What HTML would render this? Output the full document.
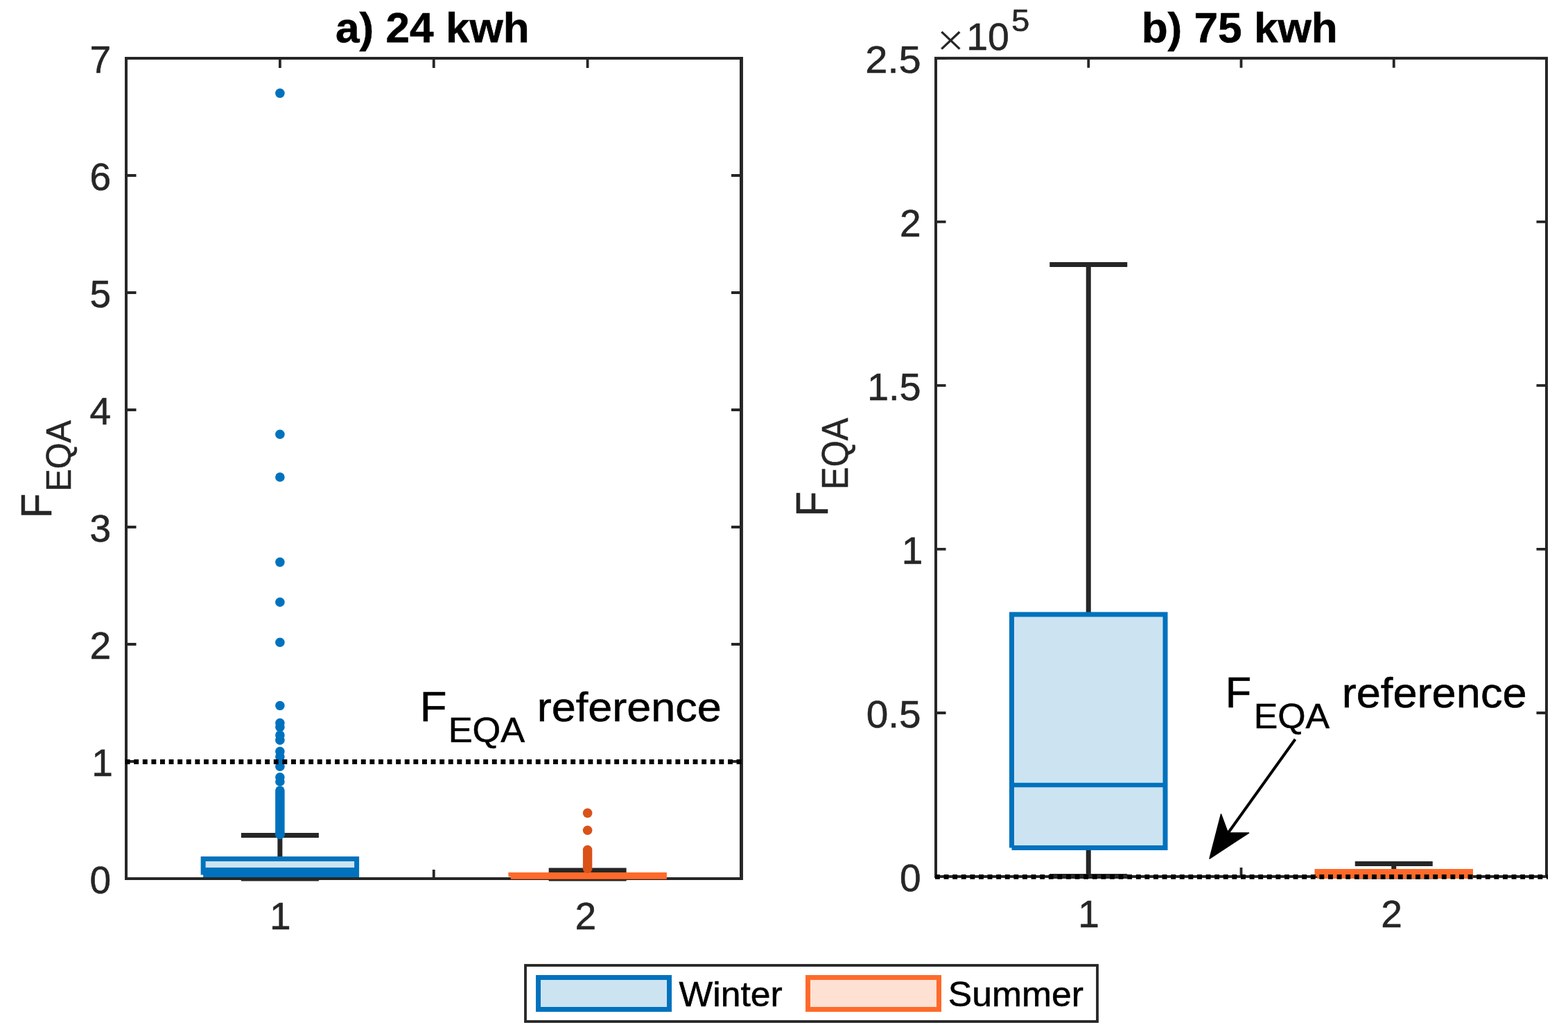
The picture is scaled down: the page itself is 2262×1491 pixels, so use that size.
<!DOCTYPE html>
<html><head><meta charset="utf-8"><title>FEQA boxplots</title>
<style>html,body{margin:0;padding:0;background:#fff;}svg{display:block;}</style>
</head><body>
<svg width="2262" height="1491" viewBox="0 0 2262 1491" font-family="'Liberation Sans', Arial, Helvetica, sans-serif">
<rect width="2262" height="1491" fill="#fff"/>
<rect x="182.0" y="84.0" width="887.5" height="1183.0" fill="none" stroke="#262626" stroke-width="4" stroke-linejoin="miter"/>
<path d="M182.0,1267.00H196.5M1069.5,1267.00H1055.0M182.0,1098.00H196.5M1069.5,1098.00H1055.0M182.0,929.00H196.5M1069.5,929.00H1055.0M182.0,760.00H196.5M1069.5,760.00H1055.0M182.0,591.00H196.5M1069.5,591.00H1055.0M182.0,422.00H196.5M1069.5,422.00H1055.0M182.0,253.00H196.5M1069.5,253.00H1055.0M182.0,84.00H196.5M1069.5,84.00H1055.0M403.88,1267.0V1254.0M403.88,84.0V97.9M625.75,1267.0V1254.0M625.75,84.0V97.9M847.62,1267.0V1254.0M847.62,84.0V97.9" stroke="#262626" stroke-width="3.8" fill="none"/>
<path d="M1069.45,82V1269" stroke="#262626" stroke-width="4.9" fill="none"/>
<path d="M403.88,1204.40L403.88,1238.50" stroke="#262626" stroke-width="7" fill="none" />
<path d="M347.88,1204.40L459.88,1204.40" stroke="#262626" stroke-width="7" fill="none" />
<path d="M347.88,1267.00L459.88,1267.00" stroke="#262626" stroke-width="7" fill="none" />
<rect x="293.12" y="1238.5" width="221.5" height="23.09999999999991" fill="#CCE3F2"/>
<path d="M293.12,1261.6V1238.5H514.62V1261.6H293.12" fill="none" stroke="#0072BD" stroke-width="7"/>
<path d="M293.12,1254.60L514.62,1254.60" stroke="#0072BD" stroke-width="7.4" fill="none" />
<circle cx="403.88" cy="134.40" r="6.8" fill="#0072BD"/>
<circle cx="403.88" cy="626.30" r="6.8" fill="#0072BD"/>
<circle cx="403.88" cy="688.00" r="6.8" fill="#0072BD"/>
<circle cx="403.88" cy="810.60" r="6.8" fill="#0072BD"/>
<circle cx="403.88" cy="868.30" r="6.8" fill="#0072BD"/>
<circle cx="403.88" cy="926.30" r="6.8" fill="#0072BD"/>
<circle cx="403.88" cy="1017.50" r="6.8" fill="#0072BD"/>
<circle cx="403.88" cy="1042.60" r="6.8" fill="#0072BD"/>
<circle cx="403.88" cy="1048.50" r="6.8" fill="#0072BD"/>
<circle cx="403.88" cy="1060.00" r="6.8" fill="#0072BD"/>
<circle cx="403.88" cy="1067.20" r="6.8" fill="#0072BD"/>
<circle cx="403.88" cy="1083.60" r="6.8" fill="#0072BD"/>
<circle cx="403.88" cy="1091.00" r="6.8" fill="#0072BD"/>
<circle cx="403.88" cy="1098.00" r="6.8" fill="#0072BD"/>
<circle cx="403.88" cy="1105.20" r="6.8" fill="#0072BD"/>
<circle cx="403.88" cy="1120.80" r="6.8" fill="#0072BD"/>
<circle cx="403.88" cy="1127.00" r="6.8" fill="#0072BD"/>
<circle cx="403.88" cy="1140.00" r="6.8" fill="#0072BD"/>
<circle cx="403.88" cy="1143.00" r="6.8" fill="#0072BD"/>
<circle cx="403.88" cy="1146.00" r="6.8" fill="#0072BD"/>
<circle cx="403.88" cy="1149.00" r="6.8" fill="#0072BD"/>
<circle cx="403.88" cy="1152.00" r="6.8" fill="#0072BD"/>
<circle cx="403.88" cy="1155.00" r="6.8" fill="#0072BD"/>
<circle cx="403.88" cy="1158.00" r="6.8" fill="#0072BD"/>
<circle cx="403.88" cy="1161.00" r="6.8" fill="#0072BD"/>
<circle cx="403.88" cy="1164.00" r="6.8" fill="#0072BD"/>
<circle cx="403.88" cy="1167.00" r="6.8" fill="#0072BD"/>
<circle cx="403.88" cy="1170.00" r="6.8" fill="#0072BD"/>
<circle cx="403.88" cy="1173.00" r="6.8" fill="#0072BD"/>
<circle cx="403.88" cy="1176.00" r="6.8" fill="#0072BD"/>
<circle cx="403.88" cy="1179.00" r="6.8" fill="#0072BD"/>
<circle cx="403.88" cy="1182.00" r="6.8" fill="#0072BD"/>
<circle cx="403.88" cy="1185.00" r="6.8" fill="#0072BD"/>
<circle cx="403.88" cy="1188.00" r="6.8" fill="#0072BD"/>
<circle cx="403.88" cy="1191.00" r="6.8" fill="#0072BD"/>
<circle cx="403.88" cy="1194.00" r="6.8" fill="#0072BD"/>
<circle cx="403.88" cy="1197.00" r="6.8" fill="#0072BD"/>
<circle cx="403.88" cy="1200.00" r="6.8" fill="#0072BD"/>
<circle cx="403.88" cy="1203.00" r="6.8" fill="#0072BD"/>
<circle cx="403.88" cy="1203.30" r="6.8" fill="#0072BD"/>
<path d="M791.62,1267.00L903.62,1267.00" stroke="#262626" stroke-width="7" fill="none" />
<path d="M847.62,1255.00L847.62,1261.50" stroke="#262626" stroke-width="7" fill="none" />
<path d="M791.62,1255.00L903.62,1255.00" stroke="#262626" stroke-width="7" fill="none" />
<path d="M736.88,1264.3V1261.5H958.38V1264.3H736.88" fill="none" stroke="#FF6A2A" stroke-width="7"/>
<circle cx="847.62" cy="1172.40" r="6.8" fill="#D95319"/>
<circle cx="847.62" cy="1197.30" r="6.8" fill="#D95319"/>
<circle cx="847.62" cy="1225.50" r="6.8" fill="#D95319"/>
<circle cx="847.62" cy="1228.50" r="6.8" fill="#D95319"/>
<circle cx="847.62" cy="1231.50" r="6.8" fill="#D95319"/>
<circle cx="847.62" cy="1234.50" r="6.8" fill="#D95319"/>
<circle cx="847.62" cy="1237.50" r="6.8" fill="#D95319"/>
<circle cx="847.62" cy="1240.50" r="6.8" fill="#D95319"/>
<circle cx="847.62" cy="1243.50" r="6.8" fill="#D95319"/>
<circle cx="847.62" cy="1246.50" r="6.8" fill="#D95319"/>
<circle cx="847.62" cy="1249.50" r="6.8" fill="#D95319"/>
<circle cx="847.62" cy="1252.50" r="6.8" fill="#D95319"/>
<path d="M180.6,1098.5H1070" stroke="#000" stroke-width="6.8" stroke-dasharray="6.9 5.7" fill="none"/>
<rect x="1350.0" y="83.9" width="881.0" height="1180.1" fill="none" stroke="#262626" stroke-width="4" stroke-linejoin="miter"/>
<path d="M1350.0,1264.00H1364.5M2231.0,1264.00H2216.5M1350.0,1027.98H1364.5M2231.0,1027.98H2216.5M1350.0,791.96H1364.5M2231.0,791.96H2216.5M1350.0,555.94H1364.5M2231.0,555.94H2216.5M1350.0,319.92H1364.5M2231.0,319.92H2216.5M1350.0,83.90H1364.5M2231.0,83.90H2216.5M1570.25,1264.0V1251.0M1570.25,83.9V97.80000000000001M1790.50,1264.0V1251.0M1790.50,83.9V97.80000000000001M2010.75,1264.0V1251.0M2010.75,83.9V97.80000000000001" stroke="#262626" stroke-width="3.8" fill="none"/>
<path d="M1570.25,381.40L1570.25,886.00" stroke="#262626" stroke-width="7" fill="none" />
<path d="M1514.25,381.40L1626.25,381.40" stroke="#262626" stroke-width="7" fill="none" />
<path d="M1570.25,1222.50L1570.25,1263.40" stroke="#262626" stroke-width="7" fill="none" />
<path d="M1514.25,1263.40L1626.25,1263.40" stroke="#262626" stroke-width="7" fill="none" />
<rect x="1459.50" y="886" width="221.5" height="336.5" fill="#CCE3F2"/>
<path d="M1459.50,1222.5V886H1681.00V1222.5H1459.50" fill="none" stroke="#0072BD" stroke-width="7"/>
<path d="M1459.50,1132.00L1681.00,1132.00" stroke="#0072BD" stroke-width="6.5" fill="none" />
<path d="M1954.75,1264.00L2066.75,1264.00" stroke="#262626" stroke-width="7" fill="none" />
<path d="M2010.75,1245.40L2010.75,1256.50" stroke="#262626" stroke-width="7" fill="none" />
<path d="M1954.75,1245.40L2066.75,1245.40" stroke="#262626" stroke-width="7" fill="none" />
<path d="M1900.00,1263.4V1256.6H2121.50V1263.4H1900.00" fill="none" stroke="#FF6A2A" stroke-width="7"/>
<path d="M1349,1264.3H2233" stroke="#000" stroke-width="6.8" stroke-dasharray="6.9 5.7" fill="none"/>
<path d="M1868.5,1066L1771,1202" stroke="#000" stroke-width="4" fill="none"/>
<path d="M1745,1238L1761.5,1174L1771.5,1201L1801.5,1201Z" fill="#000" stroke="#000" stroke-width="1.5" stroke-linejoin="round"/>
<text x="160.10" y="1288.00" font-size="55" text-anchor="end" fill="#262626" stroke="#262626" stroke-width="0.55">0</text>
<text x="162.90" y="1119.00" font-size="55" text-anchor="end" fill="#262626" stroke="#262626" stroke-width="0.55">1</text>
<text x="160.10" y="950.00" font-size="55" text-anchor="end" fill="#262626" stroke="#262626" stroke-width="0.55">2</text>
<text x="160.10" y="781.00" font-size="55" text-anchor="end" fill="#262626" stroke="#262626" stroke-width="0.55">3</text>
<text x="160.10" y="612.00" font-size="55" text-anchor="end" fill="#262626" stroke="#262626" stroke-width="0.55">4</text>
<text x="160.10" y="443.00" font-size="55" text-anchor="end" fill="#262626" stroke="#262626" stroke-width="0.55">5</text>
<text x="160.10" y="274.00" font-size="55" text-anchor="end" fill="#262626" stroke="#262626" stroke-width="0.55">6</text>
<text x="160.10" y="105.00" font-size="55" text-anchor="end" fill="#262626" stroke="#262626" stroke-width="0.55">7</text>
<text x="1328.60" y="1285.20" font-size="55" text-anchor="end" fill="#262626" stroke="#262626" stroke-width="0.55">0</text>
<text x="1331.40" y="813.16" font-size="55" text-anchor="end" fill="#262626" stroke="#262626" stroke-width="0.55">1</text>
<text x="1328.60" y="341.12" font-size="55" text-anchor="end" fill="#262626" stroke="#262626" stroke-width="0.55">2</text>
<text transform="translate(1249.77,1049.28) scale(0.9460,0.9164)" font-size="60" font-weight="normal" fill="#262626" stroke="#262626" stroke-width="0.600">0.5</text>
<text transform="translate(1251.01,577.24) scale(0.9307,0.9164)" font-size="60" font-weight="normal" fill="#262626" stroke="#262626" stroke-width="0.600">1.5</text>
<text transform="translate(1248.31,105.20) scale(0.9641,0.9164)" font-size="60" font-weight="normal" fill="#262626" stroke="#262626" stroke-width="0.600">2.5</text>
<text x="404.38" y="1339.8" font-size="55" text-anchor="middle" fill="#262626" stroke="#262626" stroke-width="0.55">1</text>
<text x="844.92" y="1339.8" font-size="55" text-anchor="middle" fill="#262626" stroke="#262626" stroke-width="0.55">2</text>
<text x="1570.65" y="1336.9" font-size="55" text-anchor="middle" fill="#262626" stroke="#262626" stroke-width="0.55">1</text>
<text x="2007.55" y="1336.9" font-size="55" text-anchor="middle" fill="#262626" stroke="#262626" stroke-width="0.55">2</text>
<text transform="translate(1351.32,80.44) scale(1.1472,1.0868)" font-size="60" fill="#262626" stroke="#fff" stroke-width="1.288">×</text>
<text transform="translate(1394.24,71.80) scale(0.9250,0.9382)" font-size="60" font-weight="normal" fill="#262626" stroke="#262626" stroke-width="0.586">10</text>
<text transform="translate(1459.03,44.80) scale(0.7894,0.7467)" font-size="60" font-weight="normal" fill="#262626" stroke="#262626" stroke-width="0.737">5</text>
<text transform="translate(483.99,60.80) scale(1.0359,1.0158)" font-size="60" font-weight="bold" fill="#000" stroke="#000" stroke-width="0.541">a) 24 kwh</text>
<text transform="translate(1646.66,60.80) scale(1.0356,1.0158)" font-size="60" font-weight="bold" fill="#000" stroke="#000" stroke-width="0.541">b) 75 kwh</text>
<text transform="translate(73.60,747.27) rotate(-90) scale(0.9744,1.0521)" font-size="60" fill="#262626" stroke="#262626" stroke-width="0.523">F</text>
<text transform="translate(102.10,708.86) rotate(-90) scale(0.8123,0.8461)" font-size="60" fill="#262626" stroke="#262626" stroke-width="0.650">EQA</text>
<text transform="translate(1194.00,744.96) rotate(-90) scale(0.9915,1.0691)" font-size="60" fill="#262626" stroke="#262626" stroke-width="0.514">F</text>
<text transform="translate(1223.00,705.97) rotate(-90) scale(0.8148,0.8800)" font-size="60" fill="#262626" stroke="#262626" stroke-width="0.625">EQA</text>
<text transform="translate(605.67,1039.90) scale(1.0564,1.0158)" font-size="60" font-weight="normal" fill="#000" stroke="#000" stroke-width="0.541">F</text>
<text transform="translate(646.64,1069.70) scale(0.8724,0.8170)" font-size="60" font-weight="normal" fill="#000" stroke="#000" stroke-width="0.673">EQA</text>
<text transform="translate(774.70,1039.90) scale(1.0501,0.9770)" font-size="60" font-weight="normal" fill="#000" stroke="#000" stroke-width="0.563">reference</text>
<text transform="translate(1767.84,1019.90) scale(1.0222,1.0400)" font-size="60" font-weight="normal" fill="#000" stroke="#000" stroke-width="0.529">F</text>
<text transform="translate(1808.68,1050.40) scale(0.8634,0.8339)" font-size="60" font-weight="normal" fill="#000" stroke="#000" stroke-width="0.660">EQA</text>
<text transform="translate(1935.69,1019.90) scale(1.0533,1.0085)" font-size="60" font-weight="normal" fill="#000" stroke="#000" stroke-width="0.545">reference</text>
<rect x="758" y="1392" width="825" height="81" fill="#fff" stroke="#262626" stroke-width="3.8"/>
<rect x="776.5" y="1409.5" width="189" height="46" fill="#CCE3F2" stroke="#0072BD" stroke-width="7"/>
<rect x="1165.5" y="1409.5" width="189" height="46" fill="#FFE1D4" stroke="#FF6A2A" stroke-width="7"/>
<text transform="translate(979.58,1451.00) scale(0.8605,0.8255)" font-size="60" font-weight="normal" fill="#000" stroke="#000" stroke-width="0.666">Winter</text>
<text transform="translate(1367.73,1451.00) scale(0.8610,0.8242)" font-size="60" font-weight="normal" fill="#000" stroke="#000" stroke-width="0.667">Summer</text>
</svg>
</body></html>
